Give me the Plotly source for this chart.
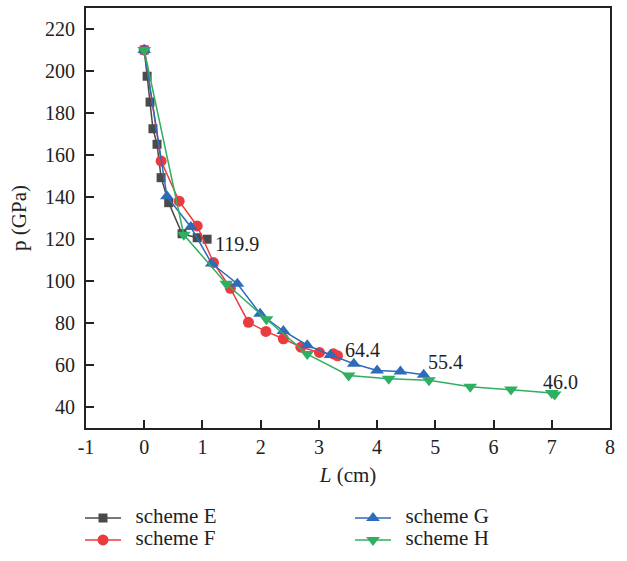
import plotly.graph_objects as go

# scheme E
e_x = [0, 0.05, 0.10, 0.15, 0.22, 0.29, 0.42, 0.65, 0.91, 1.08]
e_y = [210, 197.5, 185.2, 172.5, 165.1, 149.2, 137.3, 122.5, 120.6, 119.9]
# scheme F
f_x = [0, 0.29, 0.60, 0.91, 1.19, 1.48, 1.79, 2.09, 2.39, 2.69, 3.01, 3.25, 3.32]
f_y = [210, 157.1, 138.0, 126.2, 108.8, 96.5, 80.3, 76.0, 72.5, 68.5, 66.0, 65.3, 64.4]
# scheme G
g_x = [0, 0.39, 0.80, 1.16, 1.60, 1.99, 2.39, 2.80, 3.20, 3.60, 4.00, 4.40, 4.80]
g_y = [210, 140.3, 125.7, 108.3, 98.7, 84.4, 76.2, 69.4, 64.8, 60.6, 57.4, 56.9, 55.4]
# scheme H
h_x = [0, 0.68, 1.41, 2.10, 2.80, 3.51, 4.20, 4.89, 5.60, 6.30, 7.00, 7.05]
h_y = [210, 122.0, 98.7, 81.8, 65.2, 55.0, 53.4, 52.7, 49.7, 48.3, 46.7, 46.0]

labels = ["119.9", "64.4", "55.4", "46.0"]
label_x = [1.60, 3.75, 5.17, 7.15]
label_y = [117.6, 67.1, 61.4, 51.9]

x_ticks = [-1, 0, 1, 2, 3, 4, 5, 6, 7, 8]
x_tick_text = ["-1", "0", "1", "2", "3", "4", "5", "6", "7", "8"]
y_ticks = [40, 60, 80, 100, 120, 140, 160, 180, 200, 220]

FONT = "Liberation Serif"
INK = "#222222"
W, H = 627, 561
ML, MR, MT, MB = 86, 17, 6, 133
PW, PH = W - ML - MR, H - MT - MB
fig = go.Figure()

def add(name, xs, ys, color, symbol, size, legend):
    fig.add_trace(go.Scatter(
        x=xs, y=ys,
        name='<span style="font-size:21px">\u00a0\u2009' + name + '</span>',
        mode="lines+markers",
        line=dict(color=color, width=1.5),
        marker=dict(symbol=symbol, size=size, color=color),
        legend=legend, showlegend=True,
    ))

add("scheme E", e_x, e_y, "#4a4a4a", "square", 9, "legend")
add("scheme F", f_x, f_y, "#ec3b3f", "circle", 11, "legend2")
add("scheme G", g_x, g_y, "#2e6bb8", "triangle-up", 12, "legend3")
add("scheme H", h_x, h_y, "#2faf62", "triangle-down", 12, "legend4")

for t, x, y in zip(labels, label_x, label_y):
    fig.add_annotation(x=x, y=y, text=t, showarrow=False,
                       font=dict(family=FONT, size=20, color=INK))

axis_common = dict(
    showline=True, linecolor=INK, linewidth=2, mirror=True,
    ticks="inside", ticklen=8, tickwidth=2, tickcolor=INK,
    showgrid=False, zeroline=False,
    tickfont=dict(family=FONT, size=20, color=INK),
)

def leg(xpix, ypix):
    # xpix: left of legend box, ypix: centre of the row (page pixels)
    return dict(x=(xpix - ML) / PW, y=(H - MB - ypix) / PH,
                xanchor="left", yanchor="middle", visible=True,
                font=dict(family=FONT, size=12, color=INK),
                bgcolor="rgba(0,0,0,0)", itemwidth=36)

fig.update_layout(
    width=W, height=H, showlegend=True,
    margin=dict(l=ML, r=MR, t=MT, b=MB),
    plot_bgcolor="white", paper_bgcolor="white",
    font=dict(family=FONT, size=20, color=INK),
    xaxis=dict(range=[-1, 8], tickvals=x_ticks, ticktext=x_tick_text, **axis_common,
               title=dict(text="<i>L</i> (cm)", font=dict(family=FONT, size=21), standoff=10)),
    yaxis=dict(range=[30, 230], tickvals=y_ticks, ticklabelstandoff=5, **axis_common,
               title=dict(text="p (GPa)", font=dict(family=FONT, size=21), standoff=13)),
    legend=leg(80, 518.5),
    legend2=leg(80, 540.5),
    legend3=leg(350, 518.5),
    legend4=leg(350, 540.5),
)

fig.write_html("out.html", config={"displayModeBar": False},
               post_script="document.body.style.margin='0';")
